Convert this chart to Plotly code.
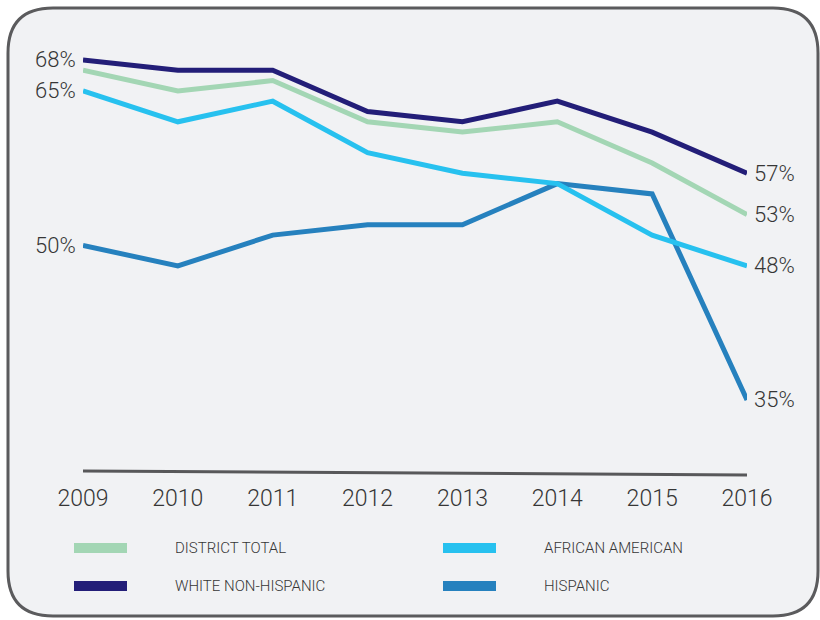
import plotly.graph_objects as go

years = [2009, 2010, 2011, 2012, 2013, 2014, 2015, 2016]
series_names = ["DISTRICT TOTAL", "WHITE NON-HISPANIC", "AFRICAN AMERICAN", "HISPANIC"]
district_total = [67, 65, 66, 62, 61, 62, 58, 53]
white_non_hispanic = [68, 67, 67, 63, 62, 64, 61, 57]
african_american = [65, 62, 64, 59, 57, 56, 51, 48]
hispanic = [50, 48, 51, 52, 52, 56, 55, 35]
left_labeled = ["WHITE NON-HISPANIC", "AFRICAN AMERICAN", "HISPANIC"]

values = {
    "DISTRICT TOTAL": district_total,
    "WHITE NON-HISPANIC": white_non_hispanic,
    "AFRICAN AMERICAN": african_american,
    "HISPANIC": hispanic,
}
colors = {
    "DISTRICT TOTAL": "#A3D6B4",
    "WHITE NON-HISPANIC": "#231E78",
    "AFRICAN AMERICAN": "#27C1EF",
    "HISPANIC": "#2681BE",
}

W, H = 820, 620
L, R, T, B = 83, 73, 40, 148
PW, PH = W - L - R, H - T - B
FONT = "Roboto, Liberation Sans, sans-serif"
TXT = "#363636"


def px(xp):
    return (xp - L) / PW


def py(yp):
    return (H - B - yp) / PH


fig = go.Figure()
draw_order = ["HISPANIC", "AFRICAN AMERICAN", "DISTRICT TOTAL", "WHITE NON-HISPANIC"]
for name in draw_order:
    fig.add_trace(go.Scatter(
        x=years, y=values[name], mode="lines", name=name,
        line=dict(color=colors[name], width=5),
        showlegend=False, hoverinfo="skip",
    ))

annotations = []
for name in series_names:
    v = values[name]
    annotations.append(dict(
        x=years[-1], y=v[-1], xref="x", yref="y", text=f"{v[-1]}%",
        showarrow=False, xanchor="left", yanchor="middle", xshift=5,
        font=dict(family=FONT, size=22, color=TXT, weight=300)))
    if name in left_labeled:
        annotations.append(dict(
            x=years[0], y=v[0], xref="x", yref="y", text=f"{v[0]}%",
            showarrow=False, xanchor="right", yanchor="middle", xshift=-5,
            font=dict(family=FONT, size=22, color=TXT, weight=300)))

# rounded background box
x0, y0, x1, y1, r = 8, 8, 818, 616, 45
path = (
    f"M {px(x0 + r)},{py(y0)} L {px(x1 - r)},{py(y0)} "
    f"Q {px(x1)},{py(y0)} {px(x1)},{py(y0 + r)} "
    f"L {px(x1)},{py(y1 - r)} Q {px(x1)},{py(y1)} {px(x1 - r)},{py(y1)} "
    f"L {px(x0 + r)},{py(y1)} Q {px(x0)},{py(y1)} {px(x0)},{py(y1 - r)} "
    f"L {px(x0)},{py(y0 + r)} Q {px(x0)},{py(y0)} {px(x0 + r)},{py(y0)} Z"
)
shapes = [dict(type="path", path=path, xref="paper", yref="paper",
               fillcolor="#F1F2F4", line=dict(color="#5B5B5D", width=3),
               layer="below")]

# baseline
shapes.append(dict(type="line", xref="x", yref="paper",
                   x0=years[0], x1=years[-1], y0=py(471), y1=py(475),
                   line=dict(color="#58585A", width=3), layer="below"))

# manual legend in two columns
legend_pos = {
    "DISTRICT TOTAL": (74, 548),
    "WHITE NON-HISPANIC": (74, 586),
    "AFRICAN AMERICAN": (443, 548),
    "HISPANIC": (443, 586),
}
for name in series_names:
    lx, ly = legend_pos[name]
    shapes.append(dict(type="rect", xref="paper", yref="paper",
                       x0=px(lx), x1=px(lx + 53), y0=py(ly - 5), y1=py(ly + 5),
                       fillcolor=colors[name], line=dict(width=0)))
    annotations.append(dict(x=px(lx + 99), y=py(ly), xref="paper", yref="paper",
                            text=name, showarrow=False, xanchor="left",
                            yanchor="middle",
                            font=dict(family=FONT, size=15, color=TXT, weight=300)))

fig.update_layout(
    width=W, height=H,
    margin=dict(l=L, r=R, t=T, b=B, pad=0),
    paper_bgcolor="white", plot_bgcolor="rgba(0,0,0,0)",
    xaxis=dict(range=[years[0], years[-1]], tickvals=years,
               ticktext=[str(y) for y in years], showgrid=False,
               zeroline=False, showline=False, ticks="outside", ticklen=5,
               tickcolor="rgba(0,0,0,0)",
               tickfont=dict(family=FONT, size=23, color=TXT, weight=300)),
    yaxis=dict(range=[28, 69.94], visible=False, showgrid=False),
    shapes=shapes, annotations=annotations, showlegend=False,
)

fig.write_html("out.html", config={"displayModeBar": False},
               post_script="document.body.style.margin='0';document.body.style.overflow='hidden';")
